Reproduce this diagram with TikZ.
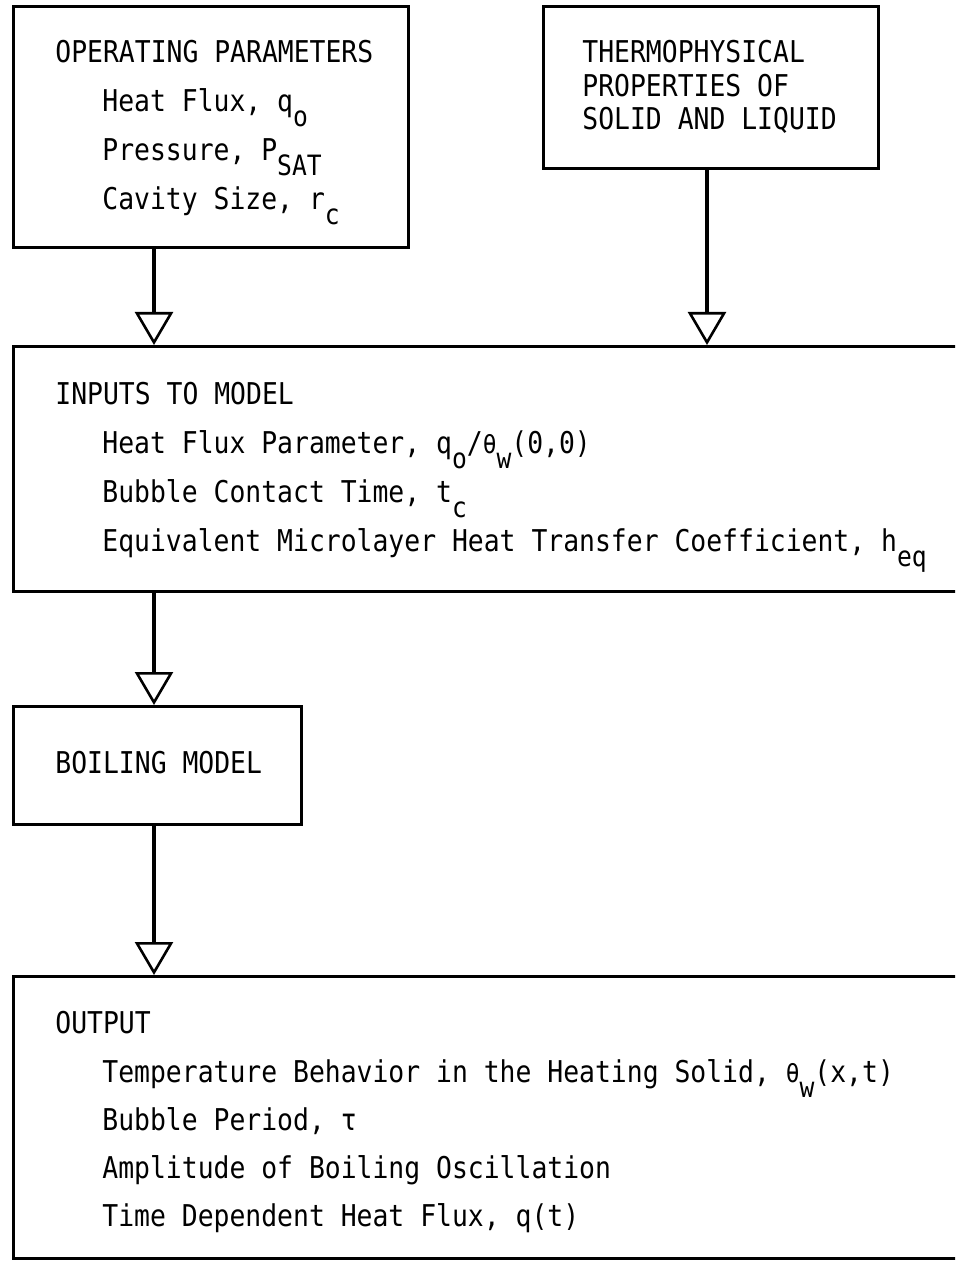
\documentclass[tikz,border=0pt]{standalone}
\usepackage{fontspec}
\setmainfont{DejaVu Sans Mono}[FakeStretch=0.88]
\usetikzlibrary{arrows.meta}

% lowered subscript as in the typed original
\newcommand{\lowsub}[1]{\raisebox{-7.5pt}{\fontsize{14}{14}\selectfont #1}}
\newcommand{\smallth}{{\fontsize{13}{13}\selectfont θ}}

\begin{document}
\begin{tikzpicture}[x=0.5pt,y=-0.5pt,
    box/.style={draw,line width=1.5pt,anchor=north west,inner sep=0pt},
    lbl/.style={anchor=base west,inner sep=0pt,font=\fontsize{15}{15}\selectfont},
    flow/.style={line width=1.6pt,-{Triangle[open,length=16.5pt,width=19pt,line width=1.3pt]}}]
  % page frame: the wide boxes run off the right edge
  \useasboundingbox (0,0) rectangle (955,1261);
  \clip (0,0) rectangle (955,1261);

  % boxes
  \node[box,minimum width=197.5pt,minimum height=120.5pt] (oper) at (12,5) {};
  \node[box,minimum width=167.5pt,minimum height=81pt] (thermo) at (542,5) {};
  \node[box,minimum width=481.5pt,minimum height=122.5pt] (inputs) at (12,345) {};
  \node[box,minimum width=144pt,minimum height=59pt] (boil) at (12,705) {};
  \node[box,minimum width=481.5pt,minimum height=141pt] (output) at (12,975) {};

  % texts
  \node[lbl] (operhead) at (55,63) {OPERATING PARAMETERS};
  \node[lbl] (operq) at (102,112) {Heat Flux, q\lowsub{o}};
  \node[lbl] (operp) at (102,161) {Pressure, P\lowsub{SAT}};
  \node[lbl] (operr) at (102,210) {Cavity Size, r\lowsub{c}};

  \node[lbl] (thermoa) at (582,63) {THERMOPHYSICAL};
  \node[lbl] (thermob) at (582,97) {PROPERTIES OF};
  \node[lbl] (thermoc) at (582,130) {SOLID AND LIQUID};

  \node[lbl] (inhead) at (55,404) {INPUTS TO MODEL};
  \node[lbl] (influx) at (102,453) {Heat Flux Parameter, q\lowsub{o}/\smallth\lowsub{w}(0,0)};
  \node[lbl] (intime) at (102,502) {Bubble Contact Time, t\lowsub{c}};
  \node[lbl] (inheq) at (102,551) {Equivalent Microlayer Heat Transfer Coefficient, h\lowsub{eq}};

  \node[lbl] (boilhead) at (55,773) {BOILING MODEL};

  \node[lbl] (outhead) at (55,1033) {OUTPUT};
  \node[lbl] (outtemp) at (102,1082) {Temperature Behavior in the Heating Solid, \smallth\lowsub{w}(x,t)};
  \node[lbl] (outper) at (102,1130) {Bubble Period, τ};
  \node[lbl] (outamp) at (102,1178) {Amplitude of Boiling Oscillation};
  \node[lbl] (outflux) at (102,1226) {Time Dependent Heat Flux, q(t)};

  % connectors
  \coordinate (lane) at (154,0);
  \coordinate (lanetwo) at (707,0);
  \draw[flow] (oper.south -| lane) -- (inputs.north -| lane);
  \draw[flow] (thermo.south -| lanetwo) -- (inputs.north -| lanetwo);
  \draw[flow] (inputs.south -| lane) -- (boil.north -| lane);
  \draw[flow] (boil.south -| lane) -- (output.north -| lane);
\end{tikzpicture}
\end{document}
